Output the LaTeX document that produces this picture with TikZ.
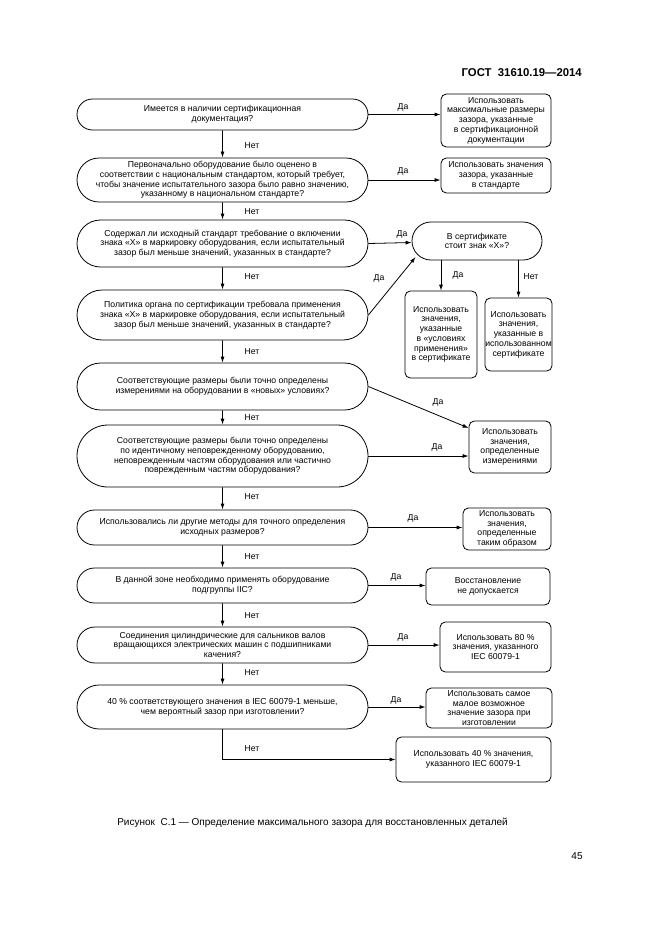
\documentclass[tikz,border=0pt]{standalone}
\usepackage{fontspec}
\setmainfont{Liberation Sans}
\usetikzlibrary{shapes.misc,arrows.meta,calc}
\begin{document}
\begin{tikzpicture}[x=0.75pt,y=-0.75pt,
  txt/.style={font=\fontsize{6.5}{7.3}\selectfont, align=center},
  dec/.style={txt, draw, line width=0.6pt, rounded rectangle, inner sep=0pt, minimum width=218.25pt},
  res/.style={txt, draw, line width=0.6pt, rounded corners=4pt, inner sep=0pt},
  arr/.style={line width=0.6pt, -{Latex[length=4.5pt,width=3pt]}},
  lbl/.style={txt, inner sep=0pt}
]
\useasboundingbox (0,0) rectangle (661,936);
% header
\node[anchor=east, inner sep=0pt, font=\fontsize{8.5}{10}\selectfont\bfseries] (hdr) at (582,73) {ГОСТ\ \ 31610.19—2014};

% decisions
\node[dec, minimum height=23.25pt] (D1) at (222.5,114.5) {Имеется в наличии сертификационная\\документация?};
\node[dec, minimum height=33pt] (D2) at (222.5,180) {Первоначально оборудование было оценено в\\соответствии с национальным стандартом, который требует,\\чтобы значение испытательного зазора было равно значению,\\указанному в национальном стандарте?};
\node[dec, minimum height=35.25pt] (D3) at (222.5,243.5) {Содержал ли исходный стандарт требование о включении\\знака «X» в маркировку оборудования, если испытательный\\зазор был меньше значений, указанных в стандарте?};
\node[dec, minimum height=37.5pt] (D4) at (222.5,315) {Политика органа по сертификации требовала применения\\знака «X» в маркировке оборудования, если испытательный\\зазор был меньше значений, указанных в стандарте?};
\node[dec, minimum height=35.25pt] (D5) at (222.5,386.5) {Соответствующие размеры были точно определены\\измерениями на оборудовании в «новых» условиях?};
\node[dec, minimum height=46.5pt] (D6) at (222.5,456) {Соответствующие размеры были точно определены\\по идентичному неповрежденному оборудованию,\\неповрежденным частям оборудования или частично\\поврежденным частям оборудования?};
\node[dec, minimum height=26.25pt] (D7) at (222.5,527.5) {Использовались ли другие методы для точного определения\\исходных размеров?};
\node[dec, minimum height=26.25pt] (D8) at (222.5,585.5) {В данной зоне необходимо применять оборудование\\подгруппы IIC?};
\node[dec, minimum height=27pt] (D9) at (222.5,645) {Соединения цилиндрические для сальников валов\\вращающихся электрических машин с подшипниками\\качения?};
\node[dec, minimum height=33pt] (D10) at (222.5,707) {40 \% соответствующего значения в IEC 60079-1 меньше,\\чем вероятный зазор при изготовлении?};

% results
\node[res, minimum width=82.5pt, minimum height=39.75pt] (R1) at (496,120.5) {Использовать\\максимальные размеры\\зазора, указанные\\в сертификационной\\документации};
\node[res, minimum width=82.5pt, minimum height=26.25pt] (R2) at (496,175.5) {Использовать значения\\зазора, указанные\\в стандарте};
\node[dec, minimum width=97.5pt, minimum height=28.5pt] (X) at (477,241) {В сертификате\\стоит знак «X»?};
\node[res, minimum width=54pt, minimum height=65.25pt] (A) at (441,334.5) {Использовать\\значения,\\указанные\\в «условиях\\применения»\\в сертификате};
\node[res, minimum width=50.25pt, minimum height=54.75pt] (B) at (518.5,334.5) {Использовать\\значения,\\указанные в\\использованном\\сертификате};
\node[res, minimum width=61.5pt, minimum height=39pt] (R5) at (510,447) {Использовать\\значения,\\определенные\\измерениями};
\node[res, minimum width=66pt, minimum height=31.5pt] (R7) at (507,529) {Использовать\\значения,\\определенные\\таким образом};
\node[res, minimum width=93pt, minimum height=27.75pt] (R8) at (488,586.5) {Восстановление\\не допускается};
\node[res, minimum width=83.25pt, minimum height=37.5pt] (R9) at (495.5,647) {Использовать 80 \%\\значения, указанного\\IEC 60079-1};
\node[res, minimum width=94.5pt, minimum height=30pt] (R10) at (489,708) {Использовать самое\\малое возможное\\значение зазора при\\изготовлении};
\node[res, minimum width=116.25pt, minimum height=33.75pt] (R11) at (473.5,759.5) {Использовать 40 \% значения,\\указанного IEC 60079-1};

% vertical "Нет" arrows
\draw[arr] (D1) -- (D2);
\draw[arr] (D2) -- (D3);
\draw[arr] (D3) -- (D4);
\draw[arr] (D4) -- (D5);
\draw[arr] (D5) -- (D6);
\draw[arr] (D6) -- (D7);
\draw[arr] (D7) -- (D8);
\draw[arr] (D8) -- (D9);
\draw[arr] (D9) -- (D10);
\draw[arr] (D10.south) -- (D10.south |- R11.west) -- (R11.west);

\node[lbl] (n1) at (252,146) {Нет};
\node[lbl] (n2) at (252,212) {Нет};
\node[lbl] (n3) at (252,277) {Нет};
\node[lbl] (n4) at (252,352) {Нет};
\node[lbl] (n5) at (252,418) {Нет};
\node[lbl] (n6) at (252,497) {Нет};
\node[lbl] (n7) at (252,557) {Нет};
\node[lbl] (n8) at (252,616) {Нет};
\node[lbl] (n9) at (252,673) {Нет};
\node[lbl] (n10) at (252,749) {Нет};

% "Да" arrows
\draw[arr] (D1.east) -- (D1.east -| R1.west);
\draw[arr] (D2.east) -- (D2.east -| R2.west);
\draw[arr] (D3.east) -- (X);
\draw[arr] (D4.east) -- ([shift={(4,16)}]X.west);
\draw[arr] (A.north |- X.south) -- (A.north);
\draw[arr] (B.north |- X.south) -- (B.north);
\draw[arr] (D5.east) -- ([shift={(0,-19)}]R5.west);
\draw[arr] (D6.east) -- (D6.east -| R5.west);
\draw[arr] (D7.east) -- (D7.east -| R7.west);
\draw[arr] (D8.east) -- (D8.east -| R8.west);
\draw[arr] (D9.east) -- (D9.east -| R9.west);
\draw[arr] (D10.east) -- (D10.east -| R10.west);

\node[lbl] (y1) at (403,107) {Да};
\node[lbl] (y2) at (403,171) {Да};
\node[lbl] (y3) at (402,234) {Да};
\node[lbl] (y4) at (379,278) {Да};
\node[lbl] (ya) at (458,275) {Да};
\node[lbl] (nb) at (531,277) {Нет};
\node[lbl] (y5) at (438,402) {Да};
\node[lbl] (y6) at (437,447) {Да};
\node[lbl] (y7) at (413,518) {Да};
\node[lbl] (y8) at (396,577) {Да};
\node[lbl] (y9) at (403,637) {Да};
\node[lbl] (y10) at (396,700) {Да};

% caption and page number
\node[anchor=west, inner sep=0pt, font=\fontsize{7.5}{9}\selectfont] (cap) at (117,823) {Рисунок\ \ С.1 — Определение максимального зазора для восстановленных деталей};
\node[inner sep=0pt, font=\fontsize{7.5}{9}\selectfont] (pg) at (577,856) {45};
\end{tikzpicture}
\end{document}
